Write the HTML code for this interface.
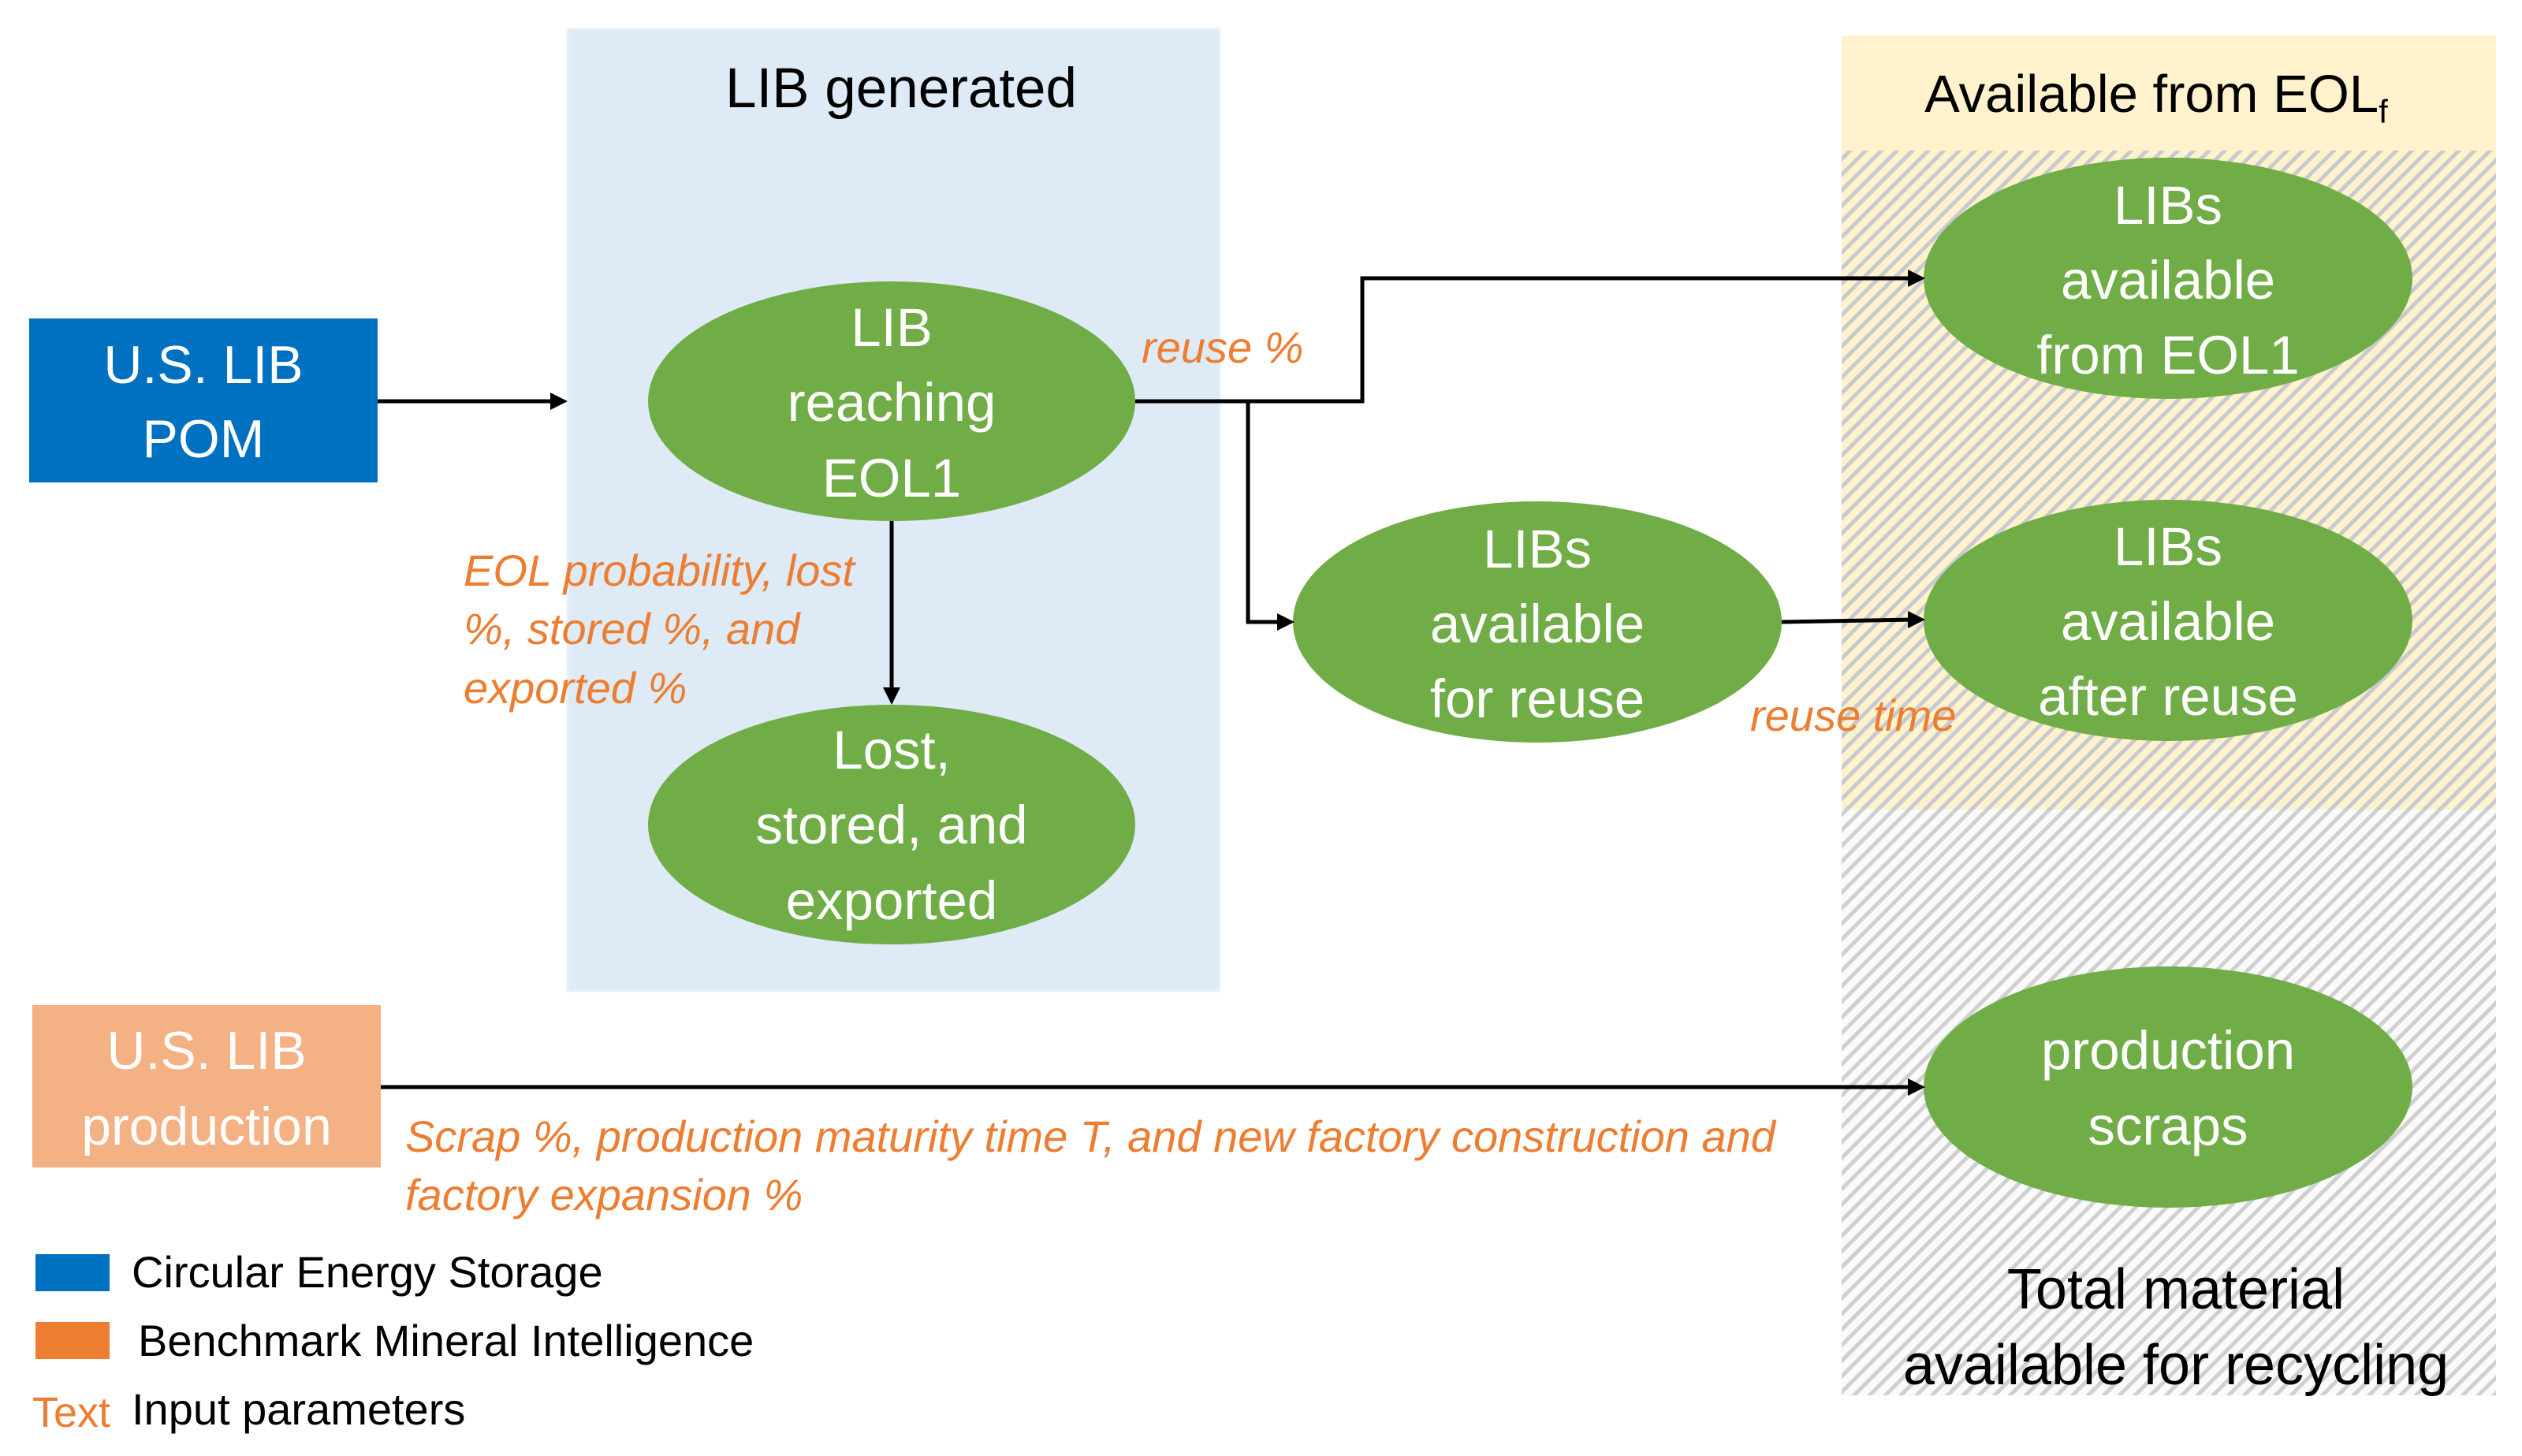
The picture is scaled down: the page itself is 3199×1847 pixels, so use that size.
<!DOCTYPE html>
<html><head><meta charset="utf-8"><style>
html,body{margin:0;padding:0;background:#fff;}
svg{display:block;font-family:"Liberation Sans",sans-serif;}
</style></head><body>
<svg width="3199" height="1847" viewBox="0 0 3199 1847" xmlns="http://www.w3.org/2000/svg">
<defs>
<pattern id="hy" patternUnits="userSpaceOnUse" width="14" height="14" patternTransform="rotate(45)">
<rect width="14" height="14" fill="#FFF2CC"/><rect width="5" height="14" fill="#C9C9D0"/>
</pattern>
<pattern id="hg" patternUnits="userSpaceOnUse" width="14" height="14" patternTransform="rotate(45)">
<rect width="14" height="14" fill="#FAFAFA"/><rect width="5" height="14" fill="#D0D0D0"/>
</pattern>
</defs>
<rect x="720" y="37" width="827" height="1220" fill="#DEEBF7" stroke="#E8F0F9" stroke-width="3"/>
<rect x="2336" y="45" width="830" height="146" fill="#FFF2CC"/>
<rect x="2336" y="191" width="830" height="836" fill="url(#hy)"/>
<rect x="2336" y="1027" width="830" height="743" fill="url(#hg)"/>
<text x="1143" y="136" font-size="71" text-anchor="middle" fill="#000">LIB generated</text>
<text x="2735" y="142" font-size="67" text-anchor="middle" fill="#000">Available from EOL<tspan font-size="42" dy="14">f</tspan></text>
<text x="2760" y="1660" font-size="72" text-anchor="middle" fill="#000">Total material</text>
<text x="2760" y="1756" font-size="72" text-anchor="middle" fill="#000">available for recycling</text>
<rect x="37" y="404" width="442" height="208" fill="#0070C0"/>
<text x="258" y="486" font-size="68" fill="#fff" text-anchor="middle">U.S. LIB</text>
<text x="258" y="580" font-size="68" fill="#fff" text-anchor="middle">POM</text>
<rect x="41" y="1275" width="442" height="206" fill="#F4B183"/>
<text x="262" y="1356" font-size="68" fill="#fff" text-anchor="middle">U.S. LIB</text>
<text x="262" y="1452" font-size="68" fill="#fff" text-anchor="middle">production</text>
<g fill="#70AD47">
<ellipse cx="1131" cy="509" rx="309" ry="152"/>
<ellipse cx="1131" cy="1046" rx="309" ry="152"/>
<ellipse cx="1950" cy="789" rx="310" ry="153"/>
<ellipse cx="2750" cy="353" rx="310" ry="153"/>
<ellipse cx="2750" cy="787" rx="310" ry="153"/>
<ellipse cx="2750" cy="1379" rx="310" ry="153"/>
</g>
<g fill="#fff" font-size="69" text-anchor="middle">
<text x="1131" y="439">LIB</text><text x="1131" y="534">reaching</text><text x="1131" y="630">EOL1</text>
<text x="1131" y="975">Lost,</text><text x="1131" y="1070">stored, and</text><text x="1131" y="1166">exported</text>
<text x="1950" y="720">LIBs</text><text x="1950" y="815">available</text><text x="1950" y="910">for reuse</text>
<text x="2750" y="284">LIBs</text><text x="2750" y="379">available</text><text x="2750" y="474">from EOL1</text>
<text x="2750" y="717">LIBs</text><text x="2750" y="812">available</text><text x="2750" y="907">after reuse</text>
<text x="2750" y="1356">production</text><text x="2750" y="1452">scraps</text>
</g>
<g stroke="#000" stroke-width="5" fill="none">
<path d="M479 509 H705"/>
<path d="M1131 661 V876"/>
<path d="M1440 509 H1728 V353 H2425"/>
<path d="M1583 509 V789 H1625"/>
<path d="M2260 789 L2425 786"/>
<path d="M483 1379 H2425"/>
</g>
<g fill="#000">
<polygon points="720,509 698,498 698,520"/>
<polygon points="1131,894 1120,872 1142,872"/>
<polygon points="2442,353 2420,342 2420,364"/>
<polygon points="1642,789 1620,778 1620,800"/>
<polygon points="2442,786 2420,775 2420,797"/>
<polygon points="2442,1379 2420,1368 2420,1390"/>
</g>
<g fill="#ED7D31" font-style="italic" font-size="56">
<text x="588" y="743">EOL probability, lost</text>
<text x="588" y="817">%, stored %, and</text>
<text x="588" y="892">exported %</text>
<text x="1448" y="460">reuse %</text>
<text x="2220" y="927">reuse time</text>
<text x="514" y="1461">Scrap %, production maturity time T, and new factory construction and</text>
<text x="514" y="1535">factory expansion %</text>
</g>
<rect x="45" y="1591" width="94" height="47" fill="#0070C0"/>
<rect x="45" y="1677" width="94" height="47" fill="#ED7D31"/>
<g font-size="56" fill="#000">
<text x="167" y="1633">Circular Energy Storage</text>
<text x="175" y="1720">Benchmark Mineral Intelligence</text>
<text x="167" y="1807">Input parameters</text>
</g>
<text x="41" y="1810" font-size="54" fill="#ED7D31">Text</text>
</svg>
</body></html>
